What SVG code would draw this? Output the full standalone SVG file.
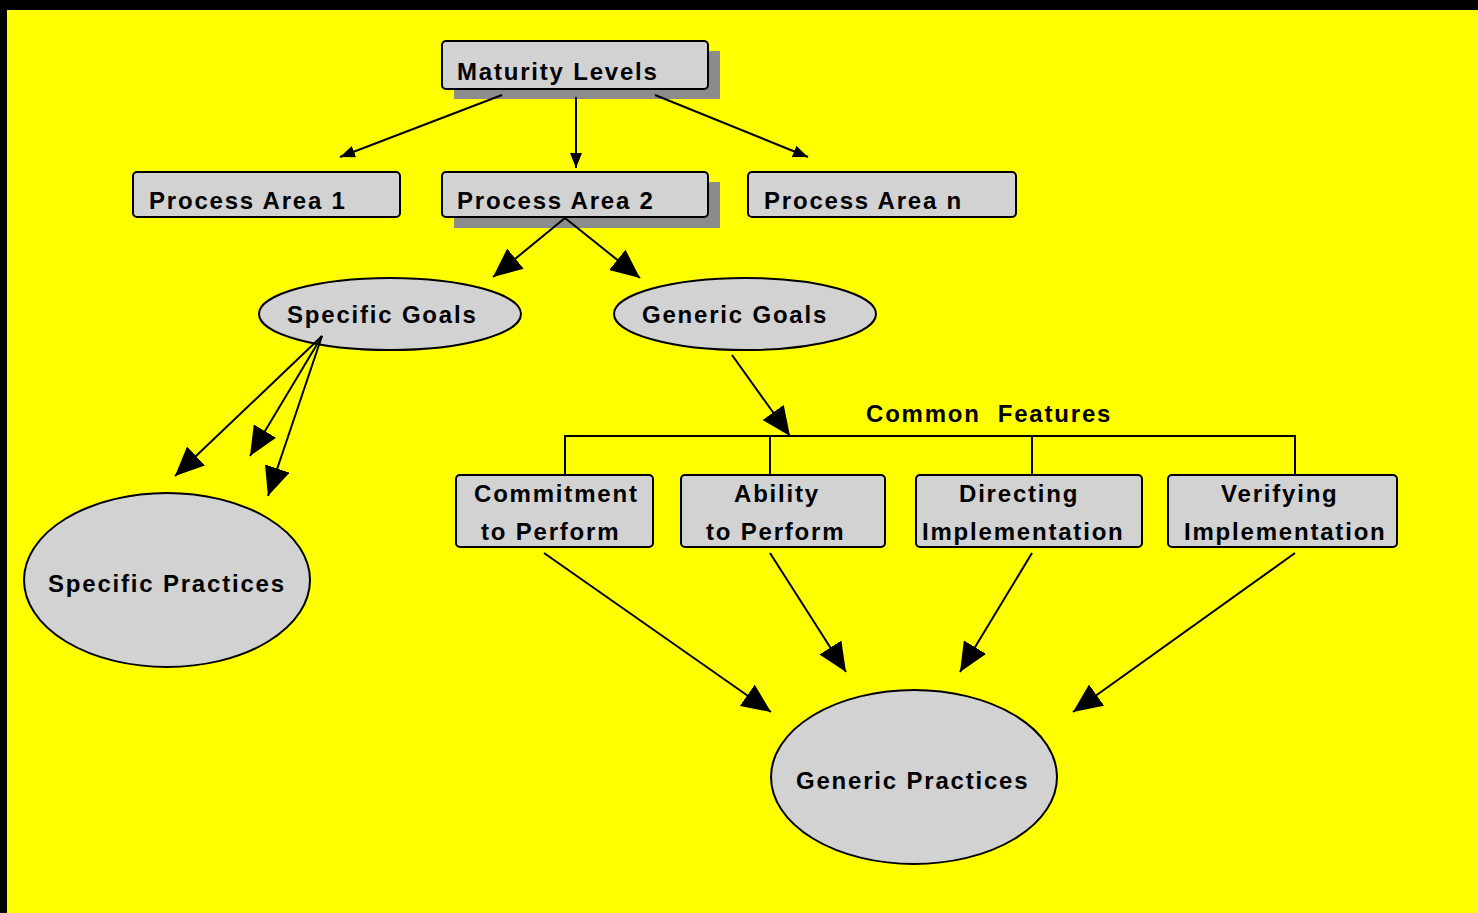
<svg xmlns="http://www.w3.org/2000/svg" width="1478" height="913" viewBox="0 0 1478 913">
<defs>
<style>
.box{fill:#d2d2d2;stroke:#000;stroke-width:2}
.shadow{fill:#8c8c8c}
.ell{fill:#d2d2d2;stroke:#000;stroke-width:2}
.t{font-family:"Liberation Sans",Arial,sans-serif;font-weight:bold;font-size:24px;letter-spacing:1.8px;fill:#000;white-space:pre}
.c{fill:none;stroke:#000;stroke-width:2}
</style>
<marker id="sm" markerUnits="userSpaceOnUse" markerWidth="16" markerHeight="12" refX="15" refY="6" orient="auto">
<path d="M0,0 L15,6 L0,12 z" fill="#000"/>
</marker>
<marker id="lg" markerUnits="userSpaceOnUse" markerWidth="30" markerHeight="26" refX="29" refY="13" orient="auto">
<path d="M0,0 L29,13 L0,26 z" fill="#000"/>
</marker>
</defs>
<rect x="0" y="0" width="1478" height="913" fill="#000"/>
<rect x="7" y="10" width="1471" height="903" fill="#ffff00"/>

<g id="maturity-levels">
<rect class="shadow" x="454" y="51" width="266" height="48"/>
<rect class="box" x="442" y="41" width="266" height="48" rx="4"/>
<text class="t" x="457" y="80">Maturity Levels</text>
</g>
<g id="process-area-1">
<rect class="box" x="133" y="172" width="267" height="45" rx="4"/>
<text class="t" x="149" y="209">Process Area 1</text>
</g>
<g id="process-area-2">
<rect class="shadow" x="454" y="182" width="266" height="46"/>
<rect class="box" x="442" y="172" width="266" height="45" rx="4"/>
<text class="t" x="457" y="209">Process Area 2</text>
</g>
<g id="process-area-n">
<rect class="box" x="748" y="172" width="268" height="45" rx="4"/>
<text class="t" x="764" y="209">Process Area n</text>
</g>
<g id="specific-goals">
<ellipse class="ell" cx="390" cy="314" rx="131" ry="36"/>
<text class="t" x="287" y="323">Specific Goals</text>
</g>
<g id="generic-goals">
<ellipse class="ell" cx="745" cy="314" rx="131" ry="36"/>
<text class="t" x="642" y="323">Generic Goals</text>
</g>
<g id="specific-practices">
<ellipse class="ell" cx="167" cy="580" rx="143" ry="87"/>
<text class="t" x="48" y="592">Specific Practices</text>
</g>
<g id="commitment">
<rect class="box" x="456" y="475" width="197" height="72" rx="4"/>
<text class="t" x="474" y="502">Commitment</text>
<text class="t" x="481" y="540">to Perform</text>
</g>
<g id="ability">
<rect class="box" x="681" y="475" width="204" height="72" rx="4"/>
<text class="t" x="734" y="502">Ability</text>
<text class="t" x="706" y="540">to Perform</text>
</g>
<g id="directing">
<rect class="box" x="916" y="475" width="226" height="72" rx="4"/>
<text class="t" x="959" y="502">Directing</text>
<text class="t" x="922" y="540">Implementation</text>
</g>
<g id="verifying">
<rect class="box" x="1168" y="475" width="229" height="72" rx="4"/>
<text class="t" x="1221" y="502">Verifying</text>
<text class="t" x="1184" y="540">Implementation</text>
</g>
<g id="generic-practices">
<ellipse class="ell" cx="914" cy="777" rx="143" ry="87"/>
<text class="t" x="796" y="789">Generic Practices</text>
</g>

<g id="connectors">
<line class="c" x1="502" y1="95" x2="340" y2="157" marker-end="url(#sm)"/>
<line class="c" x1="576" y1="97" x2="576" y2="168" marker-end="url(#sm)"/>
<line class="c" x1="655" y1="95" x2="808" y2="157" marker-end="url(#sm)"/>
<line class="c" x1="565" y1="218" x2="493" y2="277" marker-end="url(#lg)"/>
<line class="c" x1="565" y1="218" x2="640" y2="278" marker-end="url(#lg)"/>
<line class="c" x1="322" y1="336" x2="175" y2="476" marker-end="url(#lg)"/>
<line class="c" x1="322" y1="336" x2="250" y2="456" marker-end="url(#lg)"/>
<line class="c" x1="322" y1="336" x2="268" y2="496" marker-end="url(#lg)"/>
<line class="c" x1="732" y1="355" x2="790" y2="436" marker-end="url(#lg)"/>
<polyline class="c" points="565,474 565,436 1295,436 1295,474"/>
<line class="c" x1="770" y1="436" x2="770" y2="474"/>
<line class="c" x1="1032" y1="436" x2="1032" y2="474"/>
<line class="c" x1="544" y1="553" x2="771" y2="712" marker-end="url(#lg)"/>
<line class="c" x1="770" y1="553" x2="846" y2="672" marker-end="url(#lg)"/>
<line class="c" x1="1032" y1="553" x2="960" y2="672" marker-end="url(#lg)"/>
<line class="c" x1="1295" y1="553" x2="1073" y2="712" marker-end="url(#lg)"/>
<text class="t" x="866" y="422">Common  Features</text>
</g>
</svg>
